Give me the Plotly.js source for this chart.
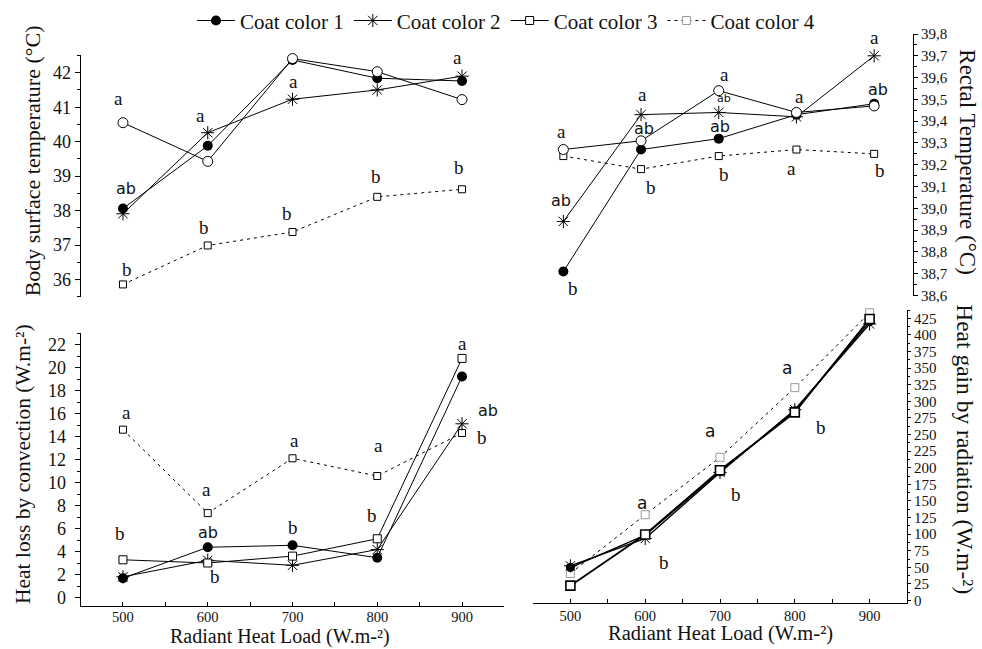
<!DOCTYPE html>
<html>
<head>
<meta charset="utf-8">
<script src="https://cdn.plot.ly/plotly-3.0.1.min.js"></script>
<style>html,body{margin:0;padding:0;background:#fff;}#chart{width:982px;height:649px;}</style>
</head>
<body>
<div id="chart"></div>
<script>
// ---------- data ----------
const loads = [500, 600, 700, 800, 900];
const seriesNames = ['Coat color 1', 'Coat color 2', 'Coat color 3', 'Coat color 4'];

// Body surface temperature (°C)
const bst1 = [38.06, 39.88, 42.37, 41.84, 41.76];
const bst2 = [37.91, 40.26, 41.23, 41.50, 41.90];
const bst3 = [40.55, 39.43, 42.41, 42.03, 41.22];
const bst4 = [35.86, 36.99, 37.38, 38.40, 38.62];

// Rectal temperature (°C)
const rt1 = [38.71, 39.27, 39.32, 39.43, 39.48];
const rt2 = [38.94, 39.43, 39.44, 39.42, 39.70];
const rt3 = [39.27, 39.31, 39.54, 39.44, 39.47];
const rt4 = [39.24, 39.18, 39.24, 39.27, 39.25];

// Heat loss by convection (W.m-2)
const hc1 = [1.71, 4.40, 4.57, 3.49, 19.26];
const hc2 = [1.83, 3.26, 2.83, 4.20, 15.14];
const hc3 = [3.31, 3.03, 3.63, 5.14, 20.83];
const hc4 = [14.63, 7.37, 12.14, 10.60, 14.34];

// Heat gain by radiation (W.m-2)
const hr1 = [49.7, 98.4, 193.9, 285.8, 420.0];
const hr2 = [52.2, 93.4, 192.9, 287.3, 416.5];
const hr3 = [22.4, 99.4, 196.3, 283.3, 424.0];
const hr4 = [40.8, 129.2, 215.7, 320.6, 433.4];

// significance letters (text, load, value)
const bstLetters = ['a','ab','b','a','b','a','a','b','a','b','a','b'];
const bstLetterX = [495, 503, 505, 591, 595, 697, 701, 694, 802, 798, 895, 897];
const bstLetterY = [41.17, 38.60, 36.22, 40.66, 37.41, 42.79, 41.67, 37.84, 42.51, 38.90, 42.36, 39.16];

const rtLetters = ['a','ab','b','a','ab','b','a','ab*','ab','b','a','a','a','ab','b'];
const rtLetterX = [498, 497, 512, 602, 604, 613, 707, 707, 701, 707, 804, 794, 900, 905, 908];
const rtLetterY = [39.34, 39.03, 38.62, 39.51, 39.36, 39.08, 39.60, 39.50, 39.37, 39.14, 39.50, 39.17, 39.77, 39.54, 39.16];

const hcLetters = ['a','b','a','ab','b','a','b','a','b','a','ab','b'];
const hcLetterX = [504, 497, 599, 600, 608, 702, 701, 802, 794, 901, 931, 924];
const hcLetterY = [15.83, 5.34, 9.14, 5.57, 1.60, 13.43, 5.89, 13.00, 6.91, 21.83, 16.20, 13.69];

const hrLetters = ['a','b','a','b','a','b'];
const hrLetterX = [596, 625, 687, 722, 790, 835];
const hrLetterY = [146.6, 57.2, 255.0, 160.0, 350.4, 260.0];

// axis titles
const titleBST = 'Body surface temperature (°C)';
const titleRT = 'Rectal Temperature (°C)';
const titleHC = 'Heat loss by convection (W.m-²)';
const titleHR = 'Heat gain by radiation (W.m-²)';
const titleX = 'Radiant Heat Load (W.m-²)';

// ---------- styles ----------
const SERIF = 'Liberation Serif';
const SANS = 'DejaVu Sans';
const INK = '#111';

function mk(name, x, y, xa, ya, style, legend, rank) {
  return Object.assign({
    type: 'scatter', mode: 'lines+markers', name: name, x: x, y: y,
    xaxis: xa, yaxis: ya, showlegend: !!legend, legendrank: rank,
    hoverinfo: 'skip', cliponaxis: false
  }, style);
}
const st1 = {line: {color: '#000', width: 1}, marker: {symbol: 'circle', size: 10, color: '#000'}};
const st2 = {line: {color: '#000', width: 1}, marker: {symbol: 'asterisk-open', size: 11, line: {color: '#000', width: 1}}};
const st3c = {line: {color: '#000', width: 1}, marker: {symbol: 'circle', size: 10, color: '#fff', line: {color: '#000', width: 1}}};
const st3s = {line: {color: '#000', width: 1}, marker: {symbol: 'square', size: 8, color: '#fff', line: {color: '#000', width: 1}}};
const st4 = {line: {color: '#000', width: 1, dash: '3px,4px'}, marker: {symbol: 'square', size: 7, color: '#fff', line: {color: '#000', width: 1}}};
const st4g = {line: {color: '#000', width: 1, dash: '3px,4px'}, marker: {symbol: 'square', size: 8, color: '#fff', line: {color: '#999', width: 1}}};
const st1b = {line: {color: '#000', width: 1.4}, marker: {symbol: 'circle', size: 9, color: '#000'}};
const st2b = {line: {color: '#000', width: 1.4}, marker: {symbol: 'asterisk-open', size: 11, line: {color: '#000', width: 1}}};
const st3b = {line: {color: '#000', width: 1.8}, marker: {symbol: 'square', size: 9, color: '#fff', line: {color: '#000', width: 1.6}}};

const traces = [
  mk(seriesNames[3], loads, bst4, 'x', 'y', st4),
  mk(seriesNames[1], loads, bst2, 'x', 'y', st2),
  mk(seriesNames[0], loads, bst1, 'x', 'y', st1),
  mk(seriesNames[2], loads, bst3, 'x', 'y', st3c),

  mk(seriesNames[3], loads, rt4, 'x2', 'y2', st4),
  mk(seriesNames[1], loads, rt2, 'x2', 'y2', st2),
  mk(seriesNames[0], loads, rt1, 'x2', 'y2', st1),
  mk(seriesNames[2], loads, rt3, 'x2', 'y2', st3c),

  mk(seriesNames[3], loads, hc4, 'x3', 'y3', st4),
  mk(seriesNames[1], loads, hc2, 'x3', 'y3', st2, true, 2),
  mk(seriesNames[2], loads, hc3, 'x3', 'y3', st3s, true, 3),
  mk(seriesNames[0], loads, hc1, 'x3', 'y3', st1, true, 1),

  mk(seriesNames[3], loads, hr4, 'x4', 'y4', st4g, true, 4),
  mk(seriesNames[1], loads, hr2, 'x4', 'y4', st2b),
  mk(seriesNames[0], loads, hr1, 'x4', 'y4', st1b),
  mk(seriesNames[2], loads, hr3, 'x4', 'y4', st3b)
];

// ---------- letters ----------
const annotations = [];
function addLetters(txts, xs, ys, xref, yref, sansA) {
  txts.forEach(function (t, i) {
    let txt = t, fam = SERIF, size = 19, shift = 3;
    if (t === 'ab') { fam = SANS; size = 16; shift = 1; }
    if (t === 'ab*') { txt = 'ab'; fam = SANS; size = 11; shift = 1; }
    if (sansA && t === 'a') { fam = SANS; size = 17; shift = 0; }
    if (sansA && t === 'b') { shift = 0; }
    annotations.push({
      text: txt, x: xs[i], y: ys[i], xref: xref, yref: yref, yshift: shift,
      showarrow: false, xanchor: 'center', yanchor: 'middle',
      font: {family: fam, size: size, color: INK}
    });
  });
}
addLetters(bstLetters, bstLetterX, bstLetterY, 'x', 'y');
addLetters(rtLetters, rtLetterX, rtLetterY, 'x2', 'y2');
addLetters(hcLetters, hcLetterX, hcLetterY, 'x3', 'y3');
addLetters(hrLetters, hrLetterX, hrLetterY, 'x4', 'y4', true);

// ---------- layout ----------
const W = 982, H = 649;
function px(a, b) { return [a / W, b / W]; }
function py(top, bottom) { return [1 - bottom / H, 1 - top / H]; }
function title(text, xPx, yPx, angle, size, yanchor) {
  return {
    text: text, xref: 'paper', yref: 'paper', x: xPx / W, y: 1 - yPx / H,
    textangle: angle, showarrow: false, xanchor: 'center', yanchor: yanchor || 'middle',
    borderpad: 0, font: {family: SERIF, size: size, color: INK}
  };
}
annotations.push(title(titleBST, 32, 156, -90, 22));
annotations.push(title(titleHC, 23, 462, -90, 21.5));
annotations.push(title(titleRT, 968, 157, 90, 23));
annotations.push(title(titleHR, 965, 447, 90, 23.5));
annotations.push(title(titleX, 280, 649, 0, 20, 'bottom'));
annotations.push(title(titleX, 720, 646, 0, 20.5, 'bottom'));

const tickFont = {family: SERIF, size: 18, color: INK};
const smallTickFont = {family: SERIF, size: 15, color: INK};

const xHidden = {range: [450, 950], showline: false, showticklabels: false, ticks: '', showgrid: false, zeroline: false, fixedrange: true};
const xShown = {
  range: [450, 950], showline: true, linecolor: '#000', linewidth: 1,
  ticks: 'inside', ticklen: 4, tickcolor: '#000', tickvals: loads,
  minor: {ticks: 'inside', ticklen: 4, dtick: 50, tick0: 450, tickcolor: '#000'},
  tickfont: {family: SERIF, size: 14.5, color: INK}, ticklabelstandoff: 0,
  showgrid: false, zeroline: false, fixedrange: true
};

const layout = {
  width: W, height: H,
  margin: {l: 0, r: 0, t: 0, b: 0},
  paper_bgcolor: '#fff', plot_bgcolor: 'rgba(0,0,0,0)',
  separators: ',.',
  showlegend: true,
  legend: {
    orientation: 'h', x: 506 / W, xanchor: 'center', y: 1 - 14 / H, yanchor: 'middle',
    font: {family: SERIF, size: 21, color: INK}, bgcolor: 'rgba(0,0,0,0)',
    itemwidth: 38, tracegroupgap: 0
  },
  xaxis: Object.assign({}, xHidden, {domain: px(80.6, 504.4), anchor: 'y'}),
  yaxis: {
    domain: py(49, 293), range: [35.5, 42.5], anchor: 'x',
    showline: true, linecolor: '#000', linewidth: 1,
    ticks: 'outside', ticklen: 5, tickcolor: '#000', dtick: 1, tick0: 36,
    minor: {ticks: 'outside', ticklen: 3, dtick: 0.5, tickcolor: '#000'},
    tickfont: tickFont, showgrid: false, zeroline: false, fixedrange: true
  },
  xaxis2: Object.assign({}, xHidden, {domain: px(524.5, 913), anchor: 'y2'}),
  yaxis2: {
    domain: py(27.3, 291.7), range: [38.6, 39.8], anchor: 'x2', side: 'right',
    showline: true, linecolor: '#000', linewidth: 1,
    ticks: 'outside', ticklen: 4, tickcolor: '#000', dtick: 0.1, tick0: 38.6, tickformat: '.1f',
    minor: {ticks: 'outside', ticklen: 2.5, dtick: 0.05, tickcolor: '#000'},
    tickfont: smallTickFont, showgrid: false, zeroline: false, fixedrange: true
  },
  xaxis3: Object.assign({}, xShown, {domain: px(80.6, 504.4), anchor: 'y3', ticklabelstandoff: -3}),
  yaxis3: {
    domain: py(330, 606), range: [-0.75, 23], anchor: 'x3',
    showline: true, linecolor: '#000', linewidth: 1,
    ticks: 'outside', ticklen: 5, tickcolor: '#000', dtick: 2, tick0: 0,
    minor: {ticks: 'outside', ticklen: 3, dtick: 1, tickcolor: '#000'},
    tickfont: tickFont, ticklabelstandoff: 5, showgrid: false, zeroline: false, fixedrange: true
  },
  xaxis4: Object.assign({}, xShown, {domain: px(533, 907), anchor: 'y4', ticklabelstandoff: 0}),
  yaxis4: {
    domain: py(306, 602), range: [-3, 438], anchor: 'x4', side: 'right',
    showline: true, linecolor: '#000', linewidth: 1,
    ticks: 'outside', ticklen: 3, tickcolor: '#000', dtick: 25, tick0: 0,
    minor: {ticks: 'outside', ticklen: 2, dtick: 12.5, tickcolor: '#000'},
    tickfont: smallTickFont, showgrid: false, zeroline: false, fixedrange: true
  },
  annotations: annotations
};

Plotly.newPlot('chart', traces, layout, {displayModeBar: false, staticPlot: true});
</script>
</body>
</html>
